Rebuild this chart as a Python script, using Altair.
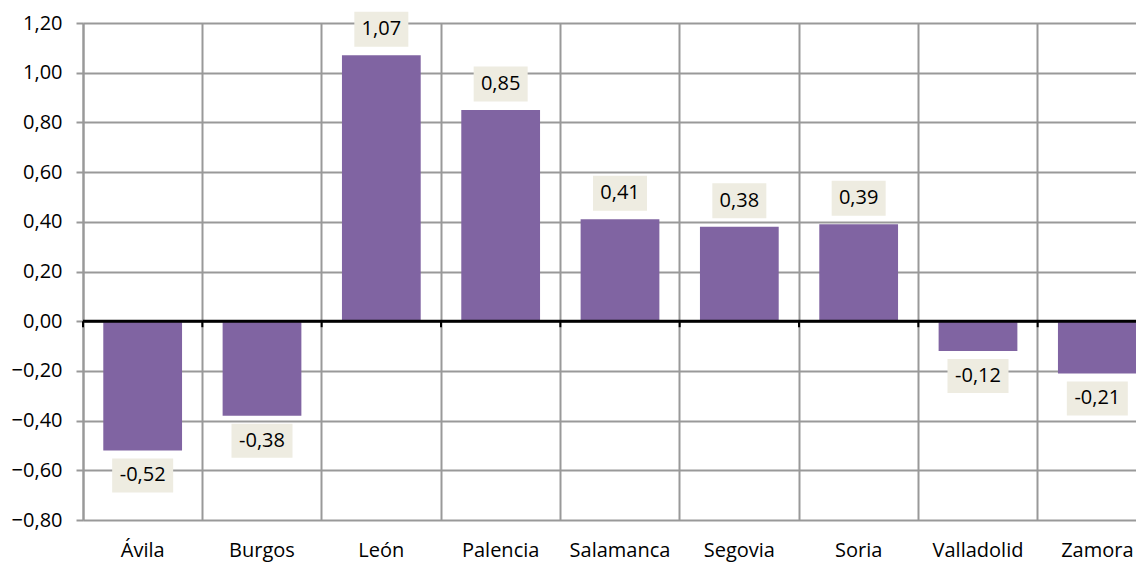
import altair as alt
import pandas as pd

provinces = ["Ávila", "Burgos", "León", "Palencia", "Salamanca", "Segovia", "Soria", "Valladolid", "Zamora"]
values = [-0.52, -0.38, 1.07, 0.85, 0.41, 0.38, 0.39, -0.12, -0.21]
y_ticks = [-0.8, -0.6, -0.4, -0.2, 0.0, 0.2, 0.4, 0.6, 0.8, 1.0, 1.2]

df = pd.DataFrame({"prov": provinces, "val": values})
df["lbl"] = [f"{v:.2f}".replace(".", ",") for v in values]

FONT = "Open Sans"
FS = 20
GRID = "#999999"
BAR = "#8064A2"
BOX = "#EEECE1"

xscale = alt.Scale(domain=provinces, range=[0, 1074], paddingInner=0, paddingOuter=0)
yscale = alt.Scale(domain=[-0.8, 1.2], nice=False, zero=False)

x = alt.X("prov:N", scale=xscale, sort=provinces, title=None,
          axis=alt.Axis(grid=True, bandPosition=0, gridColor=GRID, gridWidth=2,
                        ticks=False, domain=False, labelAngle=0, labelFont=FONT,
                        labelFontSize=FS, labelColor="#000000", labelPadding=20))
y = alt.Y("val:Q", scale=yscale, title=None,
          axis=alt.Axis(values=y_ticks, grid=True, gridColor=GRID, gridWidth=2,
                        domainColor=GRID, domainWidth=2, tickColor=GRID, tickWidth=2,
                        tickSize=7, labelFont=FONT, labelFontSize=FS, labelColor="#000000",
                        labelPadding=14,
                        labelExpr="replace(format(datum.value, '.2f'), '.', ',')"))

base = alt.Chart(df)

bars = base.mark_bar(color=BAR, width=alt.RelativeBandSize(0.66)).encode(x=x, y=y)

zero = alt.Chart(pd.DataFrame({"z": [0]})).mark_rule(color="#000000", strokeWidth=3).encode(
    y=alt.Y("z:Q", scale=yscale))

tick_path = "M0,0L0,1"
zticks = alt.Chart(pd.DataFrame({"prov": provinces, "z": [0] * len(provinces)})).mark_point(
    shape=tick_path, color="#000000", strokeWidth=2, size=144, opacity=1).encode(
    x=alt.X("prov:N", scale=xscale, sort=provinces, bandPosition=0),
    y=alt.Y("z:Q", scale=yscale))

pos = base.transform_filter("datum.val >= 0")
neg = base.transform_filter("datum.val < 0")

def boxes(src, off, w, h):
    path = f"M-1,-{h / w:.4f}L1,-{h / w:.4f}L1,{h / w:.4f}L-1,{h / w:.4f}Z"
    return src.mark_point(shape=path, filled=True, size=w * w, color=BOX, opacity=1,
                          yOffset=off).encode(x=x, y=y)

def texts(src, off):
    return src.mark_text(font=FONT, fontSize=FS, color="#000000", baseline="middle",
                         align="center", yOffset=off).encode(x=x, y=y, text="lbl:N")

chart = alt.layer(
    bars, zero, zticks,
    boxes(pos, -26, 54, 35), texts(pos, -26),
    boxes(neg, 25, 61, 34), texts(neg, 25),
).properties(
    width=1053, height=497,
    autosize=alt.AutoSizeParams(type="none"),
    padding={"left": 75, "top": 15, "right": 0, "bottom": 43},
).configure_view(stroke=None)

chart.save("out.html", embed_options={"renderer": "svg", "actions": False})
